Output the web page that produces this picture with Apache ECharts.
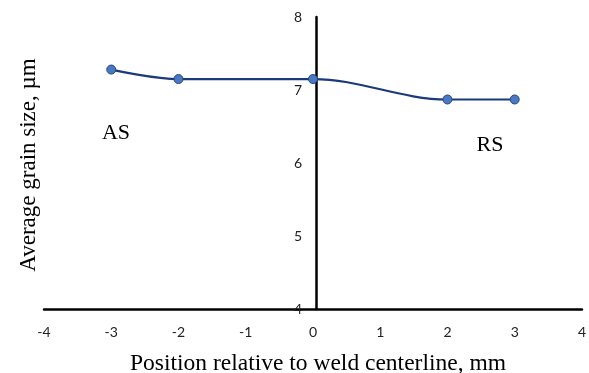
<!DOCTYPE html>
<html>
<head>
<meta charset="utf-8">
<script src="https://cdn.jsdelivr.net/npm/echarts@6/dist/echarts.min.js"></script>
<style>
  html, body { margin: 0; padding: 0; background: #fff; }
  #main { width: 589px; height: 373px; }
</style>
</head>
<body>
<div id="main"></div>
<script>
// Position relative to weld centerline (mm) and average grain size (µm)
var positions = [-3, -2, 0, 2, 3];
var grainSize = [7.28, 7.15, 7.15, 6.87, 6.87];

var xTitle = 'Position relative to weld centerline, mm';
var yTitle = 'Average grain size, µm';

var chart = echarts.init(document.getElementById('main'), null, { renderer: 'canvas' });

// grid spans -4..4 over 544px, so x = 0 sits 272px right of the left edge
chart.setOption({
    backgroundColor: '#fff',
    animation: false,
    grid: { left: 44, right: 1, top: 17, bottom: 64 },
    xAxis: {
        type: 'value',
        min: -4,
        max: 4,
        interval: 1,
        axisLine: { onZero: false, lineStyle: { color: '#000', width: 2.5 } },
        axisTick: { show: false },
        splitLine: { show: false },
        axisLabel: { color: '#222', fontFamily: 'Lato', fontSize: 14, margin: 16 }
    },
    yAxis: {
        type: 'value',
        min: 4,
        max: 8,
        interval: 1,
        offset: -272,
        axisLine: { onZero: false, lineStyle: { color: '#000', width: 2.5 } },
        axisTick: { show: false },
        splitLine: { show: false },
        axisLabel: { color: '#222', fontFamily: 'Lato', fontSize: 14, margin: 14 }
    },
    graphic: [
        {
            type: 'text',
            x: 29, y: 165,
            rotation: Math.PI / 2,
            style: {
                text: yTitle, font: '23px "Liberation Serif"', fill: '#000',
                textAlign: 'center', textVerticalAlign: 'middle'
            }
        },
        {
            type: 'text',
            x: 318, y: 364,
            style: {
                text: xTitle, font: '23.5px "Liberation Serif"', fill: '#000',
                textAlign: 'center', textVerticalAlign: 'middle'
            }
        },
        {
            type: 'text', x: 116, y: 133,
            style: { text: 'AS', font: '22px "Liberation Serif"', fill: '#000', textAlign: 'center', textVerticalAlign: 'middle' }
        },
        {
            type: 'text', x: 490, y: 145,
            style: { text: 'RS', font: '22px "Liberation Serif"', fill: '#000', textAlign: 'center', textVerticalAlign: 'middle' }
        }
    ],
    series: [{
        type: 'line',
        data: positions.map(function (x, i) { return [x, grainSize[i]]; }),
        smooth: 0.35,
        symbol: 'circle',
        symbolSize: 9,
        lineStyle: { color: '#1a3a7c', width: 2.2 },
        itemStyle: { color: '#4a78c2', borderColor: '#23477f', borderWidth: 1 },
        z: 5
    }]
});
</script>
</body>
</html>
